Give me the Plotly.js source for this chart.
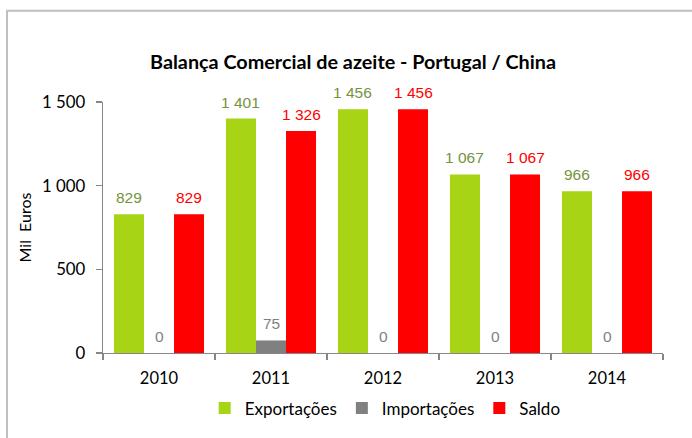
<!DOCTYPE html>
<html>
<head>
<meta charset="utf-8">
<script src="https://cdn.plot.ly/plotly-3.0.1.min.js"></script>
<style>html,body{margin:0;padding:0;background:#fff;}#chart{width:692px;height:438px;}</style>
</head>
<body>
<div id="chart"></div>
<script>
const years = ['2010', '2011', '2012', '2013', '2014'];
const exportacoes = [829, 1401, 1456, 1067, 966];
const importacoes = [0, 75, 0, 0, 0];
const saldo = [829, 1326, 1456, 1067, 966];
const yTickVals = [0, 500, 1000, 1500];

const BARGAP = 0.196;
const barW = (1 - BARGAP) / 3;
const labelFont = 'Liberation Sans, Arial, sans-serif';
const mainFont = 'Lato, Calibri, sans-serif';

const series = [
  {name: 'Exportações', y: exportacoes, color: '#a7d414', label: '#77933c', off: -barW},
  {name: 'Importações', y: importacoes, color: '#808080', label: '#7f7f7f', off: 0},
  {name: 'Saldo', y: saldo, color: '#ff0000', label: '#ff0000', off: barW}
];

const fmt = v => String(v).replace(/\B(?=(\d{3})+(?!\d))/g, ' ');

const traces = series.map(s => ({
  type: 'bar', name: s.name, x: years, y: s.y,
  marker: {color: s.color, line: {width: 0}},
  hoverinfo: 'skip'
}));

const annotations = [];
series.forEach(s => {
  s.y.forEach((v, i) => {
    annotations.push({
      x: i + s.off, y: v, xref: 'x', yref: 'y',
      text: fmt(v), showarrow: false, yanchor: 'bottom', xanchor: 'center',
      yshift: 6, font: {family: labelFont, size: 15.5, color: s.label}
    });
  });
});

const layout = {
  width: 692, height: 438,
  margin: {l: 103, r: 29, t: 102, b: 83},
  paper_bgcolor: '#ffffff', plot_bgcolor: '#ffffff',
  separators: ', ',
  barmode: 'group', bargap: BARGAP, bargroupgap: 0,
  showlegend: true,
  title: {
    text: '<b>Balança Comercial de azeite - Portugal / China</b>',
    font: {family: mainFont, size: 19.8, color: '#000'},
    x: 353 / 692, xanchor: 'center', xref: 'container',
    y: (438 - 62) / 438, yanchor: 'middle'
  },
  xaxis: {
    type: 'category',
    showline: true, linecolor: '#868686', linewidth: 1.3,
    ticks: 'outside', tickson: 'boundaries', ticklen: 6, tickcolor: '#868686', tickwidth: 1.3,
    tickfont: {family: mainFont, size: 16.5, color: '#000'},
    ticklabelstandoff: 10,
    showgrid: false, zeroline: false, fixedrange: true
  },
  yaxis: {
    range: [0, 1500], tickvals: yTickVals, ticktext: yTickVals.map(fmt),
    showline: true, linecolor: '#868686', linewidth: 1.3,
    ticks: 'outside', ticklen: 6, tickcolor: '#868686', tickwidth: 1.3,
    tickfont: {family: mainFont, size: 16.8, color: '#000'},
    ticklabelstandoff: 7,
    showgrid: false, zeroline: false, fixedrange: true,
    title: {text: 'Mil\u00a0 Euros\u00a0\u00a0\u00a0', font: {family: mainFont, size: 16, color: '#000'}, standoff: 6}
  },
  legend: {
    orientation: 'h', x: 388 / 560 - 103 / 560 - 0.005, xanchor: 'center', y: -0.221, yanchor: 'middle',
    font: {family: mainFont, size: 17, color: '#000'},
    itemwidth: 30, traceorder: 'normal'
  },
  annotations: annotations,
  shapes: [{
    type: 'rect', xref: 'paper', yref: 'paper',
    x0: (7 - 103) / 560, x1: 1.3, y0: -0.6, y1: (355 - 10) / 253,
    line: {color: '#bfbfbf', width: 2}, fillcolor: 'rgba(0,0,0,0)', layer: 'below'
  }]
};

Plotly.newPlot('chart', traces, layout, {staticPlot: true, displayModeBar: false});
</script>
</body>
</html>
